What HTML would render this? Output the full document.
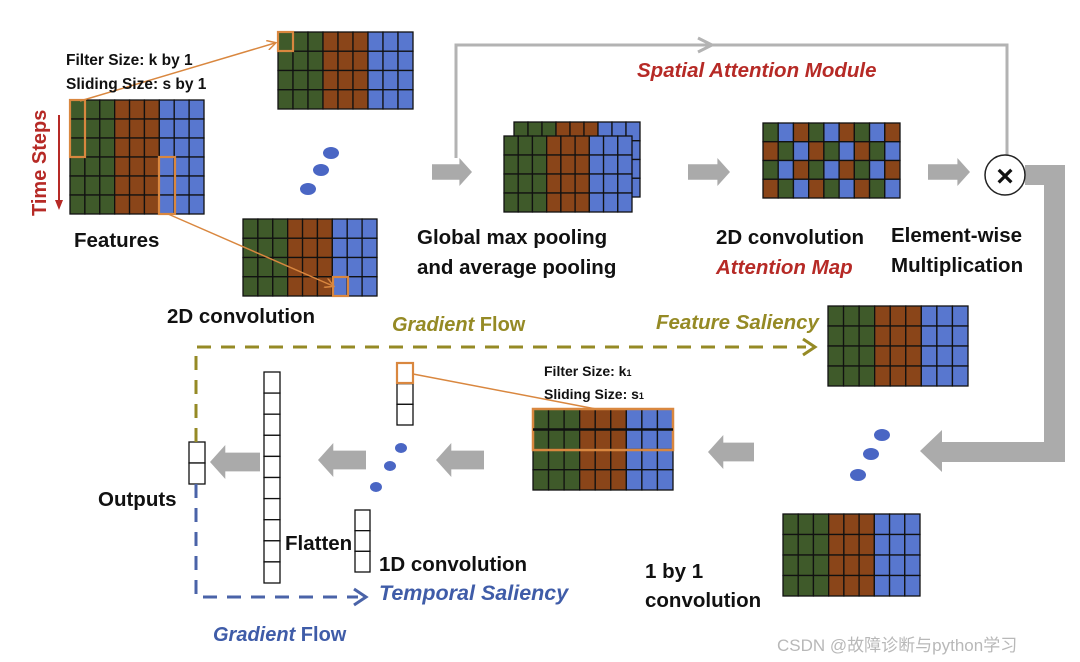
<!DOCTYPE html>
<html><head><meta charset="utf-8"><style>
html,body{margin:0;padding:0;background:#fff;width:1080px;height:662px;overflow:hidden}
svg{display:block}
text{font-family:"Liberation Sans",Arial,sans-serif;font-weight:bold}
</style></head><body>
<svg id="s" width="1080" height="662" viewBox="0 0 1080 662" xmlns="http://www.w3.org/2000/svg">
<defs>
<marker id="ao" markerWidth="10" markerHeight="10" refX="8" refY="5" orient="auto" markerUnits="userSpaceOnUse"><path d="M0,0 L9,5 L0,10" fill="none" stroke="#d9873f" stroke-width="1.5"/></marker>
</defs>
<polyline points="456,158 456,45 1007,45 1007,155" fill="none" stroke="#b3b3b3" stroke-width="3"/>
<path d="M698,38 L712,45 L698,52" fill="none" stroke="#b3b3b3" stroke-width="3"/>
<polygon points="1025,165 1065,165 1065,462 942,462 942,472 920,451 942,430 942,442 1044,442 1044,185 1025,185" fill="#ababab"/>
<g id="g"></g>
<circle cx="1005" cy="175" r="20" fill="#fff" stroke="#222" stroke-width="1.5"/>
<text x="1005" y="186" font-size="30" text-anchor="middle" fill="#111">×</text>
<polyline points="196,442 196,347 806,347" fill="none" stroke="#958a25" stroke-width="3" stroke-dasharray="14,10"/>
<path d="M803,339 L815,347 L803,355" fill="none" stroke="#958a25" stroke-width="3"/>
<polyline points="196,484 196,597 358,597" fill="none" stroke="#4a63a8" stroke-width="3" stroke-dasharray="14,10"/>
<path d="M354,589 L366,597 L354,605" fill="none" stroke="#4a63a8" stroke-width="3"/>
<line x1="80" y1="101" x2="275" y2="43" stroke="#d9873f" stroke-width="1.5" marker-end="url(#ao)"/>
<line x1="168" y1="214" x2="333" y2="286" stroke="#d9873f" stroke-width="1.5" marker-end="url(#ao)"/>
<line x1="413" y1="374" x2="596" y2="409" stroke="#d9873f" stroke-width="1.5"/>
<g fill="#4a66c4">
<ellipse cx="331" cy="153" rx="8" ry="6"/><ellipse cx="321" cy="170" rx="8" ry="6"/><ellipse cx="308" cy="189" rx="8" ry="6"/>
<ellipse cx="882" cy="435" rx="8" ry="6"/><ellipse cx="871" cy="454" rx="8" ry="6"/><ellipse cx="858" cy="475" rx="8" ry="6"/>
<ellipse cx="401" cy="448" rx="6" ry="5"/><ellipse cx="390" cy="466" rx="6" ry="5"/><ellipse cx="376" cy="487" rx="6" ry="5"/>
</g>
<g fill="#111">
<text x="66" y="65" font-size="15.5">Filter Size: k by 1</text>
<text x="66" y="89" font-size="15.5">Sliding Size: s by 1</text>
<text x="74" y="247" font-size="20.5">Features</text>
<text x="167" y="323" font-size="20.5">2D convolution</text>
<text x="417" y="244" font-size="20.5">Global max pooling</text>
<text x="417" y="274" font-size="20.5">and average pooling</text>
<text x="716" y="244" font-size="20.5">2D convolution</text>
<text x="891" y="242" font-size="20.5">Element-wise</text>
<text x="891" y="272" font-size="20.5">Multiplication</text>
<text x="544" y="376" font-size="14">Filter Size: k<tspan font-size="9">1</tspan></text>
<text x="544" y="399" font-size="14">Sliding Size: s<tspan font-size="9">1</tspan></text>
<text x="98" y="506" font-size="20.5">Outputs</text>
<text x="285" y="550" font-size="20.5">Flatten</text>
<text x="379" y="571" font-size="20.5">1D convolution</text>
<text x="645" y="578" font-size="20.5">1 by 1</text>
<text x="645" y="607" font-size="20.5">convolution</text>
</g>
<text x="637" y="77" font-size="20.5" font-style="italic" fill="#b62a26">Spatial Attention Module</text>
<text x="716" y="274" font-size="20.5" font-style="italic" fill="#b62a26">Attention Map</text>
<text transform="translate(46,216) rotate(-90)" font-size="20" fill="#b62a26">Time Steps</text>
<line x1="59" y1="115" x2="59" y2="204" stroke="#b62a26" stroke-width="2"/>
<path d="M55,200 L59,210 L63,200 Z" fill="#b62a26"/>
<text x="392" y="331" font-size="20" fill="#958a25"><tspan font-style="italic">Gradient</tspan> Flow</text>
<text x="656" y="329" font-size="20.5" font-style="italic" fill="#958a25">Feature Saliency</text>
<text x="379" y="600" font-size="21.5" font-style="italic" fill="#3f5ca8">Temporal Saliency</text>
<text x="213" y="641" font-size="20" fill="#3f5ca8"><tspan font-style="italic">Gradient</tspan> Flow</text>
<text x="777" y="651" font-size="17" fill="#b8b8b8" style="font-weight:normal;font-family:'Liberation Sans','Noto Sans CJK SC',sans-serif">CSDN @故障诊断与python学习</text>
</svg>
<script>
var G='#3f5a2a',B='#8a4519',L='#5877cf';
var g=document.getElementById('g'),h='';
function grid(x,y,w,hh,cols,rows,colorFn){
 var cw=w/cols,rh=hh/rows;
 for(var r=0;r<rows;r++)for(var c=0;c<cols;c++){
  h+='<rect x="'+(x+c*cw)+'" y="'+(y+r*rh)+'" width="'+cw+'" height="'+rh+'" fill="'+colorFn(r,c)+'" stroke="#111" stroke-width="1.3"/>';
 }
}
function std(r,c){return c<3?G:c<6?B:L;}
function att(r,c){var a=r%2==0?[G,L,B]:[B,G,L];return a[c%3];}
grid(70,100,134,114,9,6,std);
grid(278,32,135,77,9,4,std);
grid(243,219,134,77,9,4,std);
grid(514,122,126,75,9,4,std);
grid(504,136,128,76,9,4,std);
grid(763,123,137,75,9,4,att);
grid(828,306,140,80,9,4,std);
grid(783,514,137,82,9,4,std);
grid(533,409,140,81,9,4,std);
function col(x,y,w,hh,n){var rh=hh/n;for(var i=0;i<n;i++)h+='<rect x="'+x+'" y="'+(y+i*rh)+'" width="'+w+'" height="'+rh+'" fill="#fff" stroke="#111" stroke-width="1.3"/>';}
col(397,363,16,62,3);col(355,510,15,62,3);col(264,372,16,211,10);col(189,442,16,42,2);
function orr(x,y,w,hh,sw){h+='<rect x="'+x+'" y="'+y+'" width="'+w+'" height="'+hh+'" fill="none" stroke="#d9873f" stroke-width="'+(sw||2.2)+'"/>';}
orr(70,100,15,57);orr(159,157,16,57);orr(278,32,15,19);orr(333,277,15,19);orr(397,363,16,20);orr(533,409,140,41,2.5);
h+='<line x1="533" y1="429.5" x2="673" y2="429.5" stroke="#111" stroke-width="2.5"/>';
function ar(x,y,w,hh,dir){var hw=hh*0.45,sh=hh*0.55;var p;
 if(dir>0){p=[[x,y-sh/2],[x+w-hw,y-sh/2],[x+w-hw,y-hh/2],[x+w,y],[x+w-hw,y+hh/2],[x+w-hw,y+sh/2],[x,y+sh/2]];}
 else{p=[[x+w,y-sh/2],[x+hw,y-sh/2],[x+hw,y-hh/2],[x,y],[x+hw,y+hh/2],[x+hw,y+sh/2],[x+w,y+sh/2]];}
 h+='<polygon points="'+p.map(function(q){return q.join(',')}).join(' ')+'" fill="#aaa"/>';}
ar(432,172,40,28,1);ar(688,172,42,28,1);ar(928,172,42,28,1);
ar(708,452,46,34,-1);ar(436,460,48,34,-1);ar(318,460,48,34,-1);ar(210,462,50,34,-1);
g.innerHTML=h;
</script>
</body></html>
